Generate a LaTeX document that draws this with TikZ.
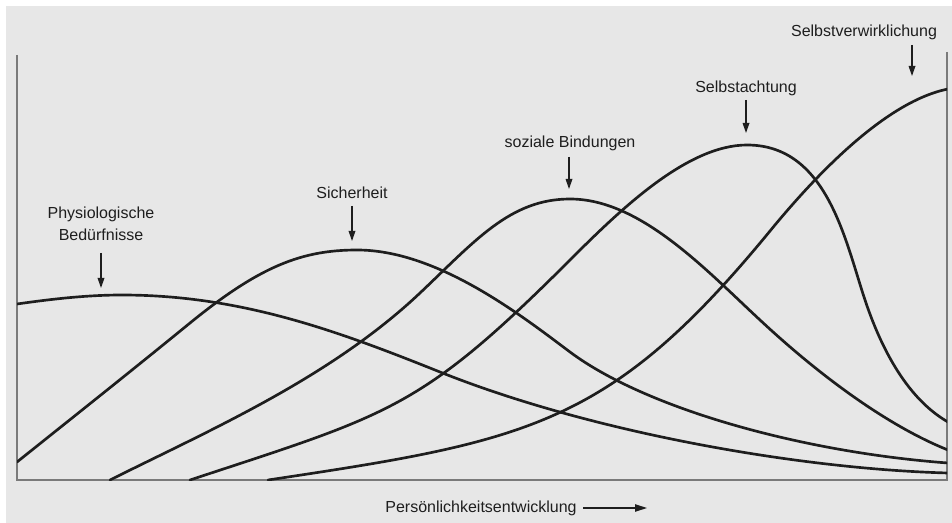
\documentclass[tikz,border=0pt]{standalone}
\usepackage{fontspec}
\setmainfont{Liberation Sans}
\usetikzlibrary{arrows.meta}
\definecolor{bg}{HTML}{E7E7E7}
\definecolor{axisgray}{HTML}{7A7A7A}
\definecolor{ink}{HTML}{1E1E1E}
\begin{document}
\begin{tikzpicture}[x=0.75pt,y=-0.75pt,
  curve/.style={ink, line width=2pt, line cap=round},
  axisline/.style={axisgray, line width=1.3pt},
  lbl/.style={font=\fontsize{12}{16.5}\selectfont, text=ink, inner sep=0pt, align=center},
  pointer/.style={ink, line width=0.9pt, -{Triangle[length=7.5pt,width=5pt]}},
  xpointer/.style={ink, line width=0.9pt, -{Triangle[length=9pt,width=5.5pt]}}]
\useasboundingbox (0,0) rectangle (952,523);
\fill[white] (0,0) rectangle (952,523);
\fill[bg] (6,6) rectangle (952,523);

% axes
\coordinate (ytop) at (17,55);
\coordinate (O) at (17,480);
\coordinate (xend) at (948,480);
\coordinate (rtop) at (947,52);
\coordinate (rbot) at (947,480);
\draw[axisline] (rtop) -- (rbot);
\draw[axisline] (ytop) -- (O) -- (xend);

% curves
\begin{scope}
\clip (17,0) rectangle (947,480);
% Physiologische Beduerfnisse
\draw[curve] (17,304) .. controls (52,299) and (87,295) .. (122,295)
  .. controls (242,295) and (340,332) .. (440,372)
  .. controls (590,432) and (798,469) .. (948,473);
% Sicherheit
\draw[curve] (17,462) .. controls (77,414) and (130,372) .. (190,323)
  .. controls (260,266) and (302,250) .. (357,250)
  .. controls (437,250) and (520,314.5) .. (570,352)
  .. controls (645,408) and (800,452) .. (948,463);
% soziale Bindungen
\draw[curve] (110,480) .. controls (210,430) and (330,378) .. (420,293)
  .. controls (475,241) and (510,199) .. (570,199)
  .. controls (640,199) and (705,269) .. (760,320)
  .. controls (820,376) and (888,426) .. (948,450);
% Selbstachtung
\draw[curve] (190,480) .. controls (390,414) and (420,410) .. (570,260)
  .. controls (620,210) and (687,145) .. (747,145)
  .. controls (827,145) and (845,240) .. (865,300)
  .. controls (885,360) and (913,402) .. (948,422);
% Selbstverwirklichung
\draw[curve] (268,480) .. controls (528,441) and (610,426) .. (770,231)
  .. controls (820,170) and (888,101) .. (948,89);
\end{scope}

% labels
\node[lbl] (phys) at (101,224) {Physiologische\\Bedürfnisse};
\node[lbl] (sich) at (352,193) {Sicherheit};
\node[lbl] (soz) at (570,143) {soziale Bindungen};
\node[lbl] (acht) at (746,88) {Selbstachtung};
\node[lbl] (verw) at (864,32) {Selbstverwirklichung};
\node[lbl] (xlab) at (481,508) {Persönlichkeitsentwicklung};

% pointers
\coordinate (physA) at (101,253); \coordinate (physB) at (101,288);
\coordinate (sichA) at (352,206); \coordinate (sichB) at (352,241);
\coordinate (sozA) at (569,157); \coordinate (sozB) at (569,189);
\coordinate (achtA) at (746,100); \coordinate (achtB) at (746,133);
\coordinate (verwA) at (912,45); \coordinate (verwB) at (912,76);
\draw[pointer] (physA) -- (physB);
\draw[pointer] (sichA) -- (sichB);
\draw[pointer] (sozA) -- (sozB);
\draw[pointer] (achtA) -- (achtB);
\draw[pointer] (verwA) -- (verwB);
\coordinate (xarrA) at (583,508); \coordinate (xarrB) at (647,508);
\draw[xpointer] (xarrA) -- (xarrB);
\end{tikzpicture}
\end{document}
